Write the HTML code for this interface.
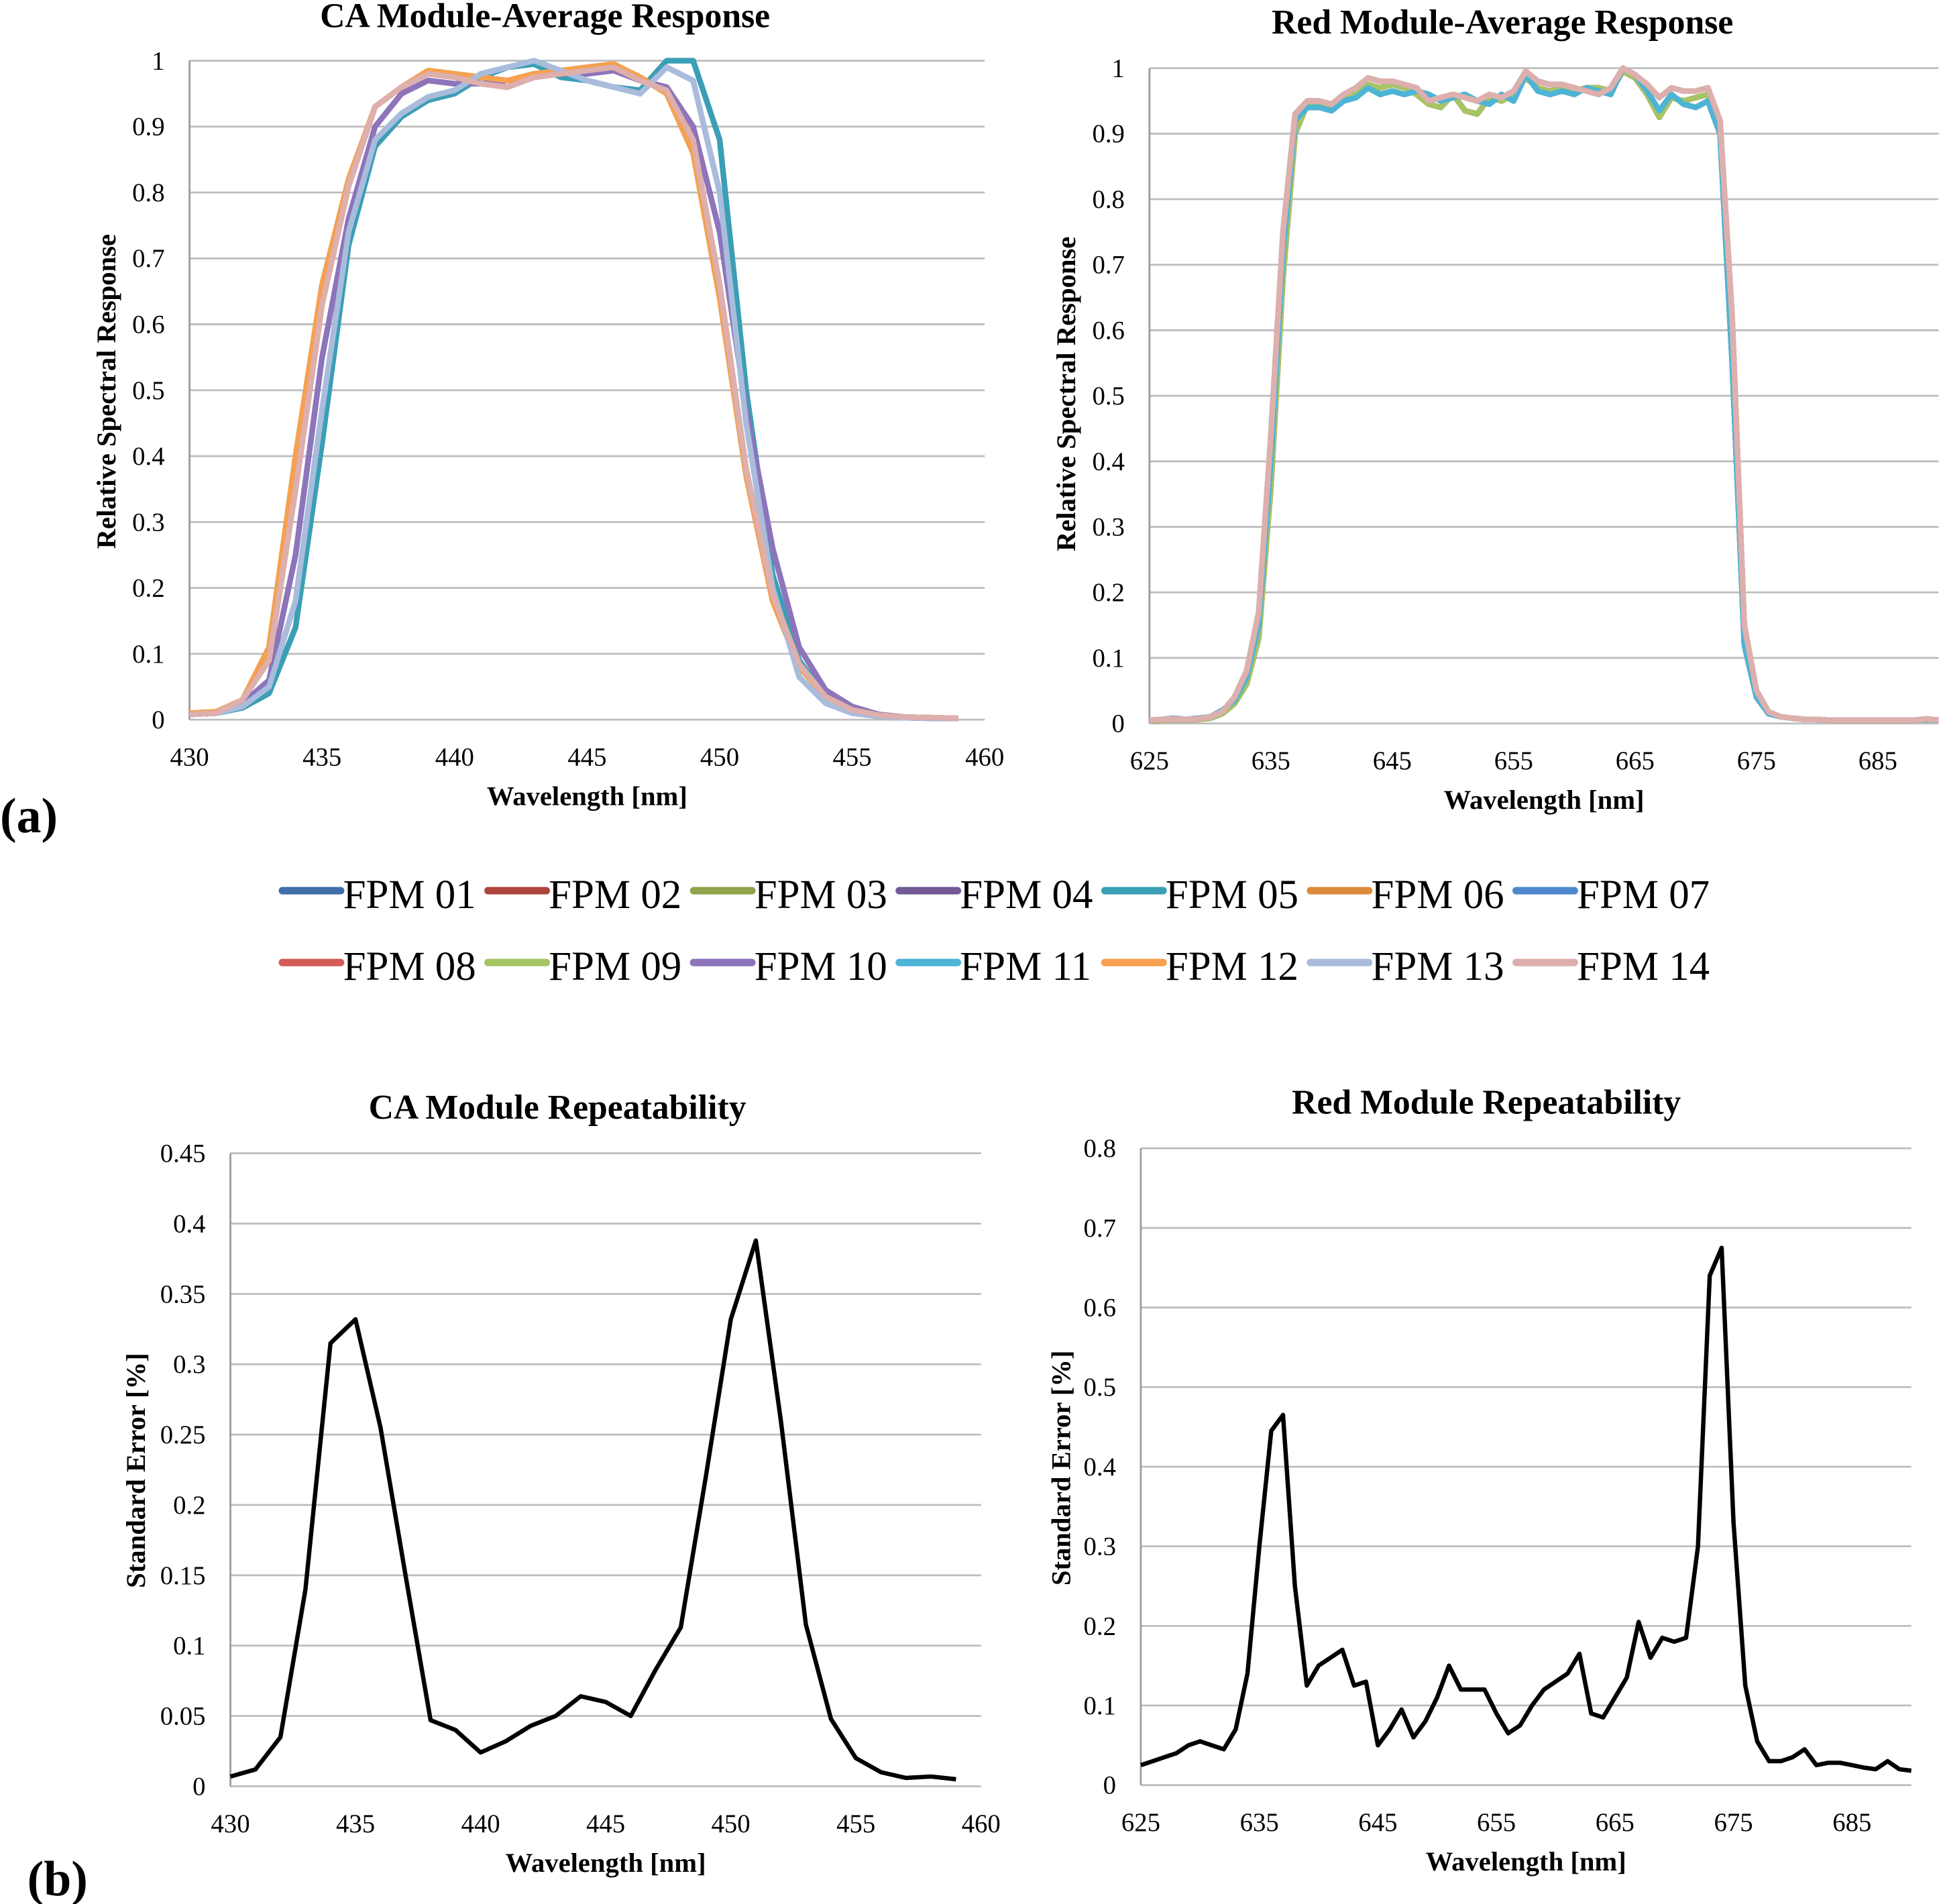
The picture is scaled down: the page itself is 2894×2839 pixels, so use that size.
<!DOCTYPE html>
<html><head><meta charset="utf-8"><style>
html,body{margin:0;padding:0;background:#fff;}
svg{display:block;}
text{font-family:"Liberation Serif",serif;}
</style></head><body>
<svg id="fig" width="2894" height="2839" viewBox="0 0 1567 1537" preserveAspectRatio="none"></svg>
<script>
// ---------- data ----------
const caWl = [430,431,432,433,434,435,436,437,438,439,440,441,442,443,444,445,446,447,448,449,450,451,452,453,454,455,456,457,458,459];
const caEarly = [0.01,0.012,0.03,0.11,0.40,0.66,0.82,0.93,0.96,0.985,0.98,0.975,0.97,0.98,0.985,0.99,0.995,0.975,0.95,0.86,0.64,0.37,0.18,0.08,0.035,0.015,0.007,0.004,0.003,0.002];
const caEarly2 = [0.008,0.01,0.03,0.09,0.35,0.63,0.81,0.93,0.96,0.98,0.975,0.965,0.96,0.975,0.98,0.985,0.99,0.97,0.955,0.88,0.66,0.38,0.19,0.085,0.035,0.015,0.007,0.004,0.003,0.002];
const caMid = [0.008,0.01,0.025,0.06,0.25,0.55,0.76,0.9,0.95,0.97,0.965,0.965,0.97,0.975,0.98,0.98,0.985,0.97,0.96,0.9,0.74,0.47,0.26,0.11,0.045,0.02,0.008,0.004,0.003,0.002];
const caLate = [0.008,0.01,0.018,0.04,0.14,0.42,0.72,0.87,0.915,0.94,0.95,0.975,0.99,0.995,0.975,0.97,0.96,0.955,1.0,1.0,0.88,0.5,0.22,0.09,0.035,0.015,0.006,0.003,0.002,0.002];
const caLate2 = [0.008,0.01,0.02,0.05,0.18,0.47,0.74,0.88,0.92,0.945,0.955,0.98,0.99,1.0,0.985,0.97,0.96,0.95,0.99,0.97,0.8,0.45,0.2,0.065,0.025,0.01,0.005,0.003,0.002,0.002];
const redWl = [];for(let w=625;w<=690;w++)redWl.push(w);
const redA = [0.005,0.006,0.008,0.006,0.008,0.01,0.02,0.035,0.07,0.15,0.40,0.72,0.92,0.94,0.94,0.935,0.95,0.955,0.97,0.96,0.965,0.96,0.965,0.96,0.95,0.955,0.96,0.95,0.945,0.96,0.95,0.99,0.965,0.96,0.965,0.96,0.97,0.965,0.96,1.0,0.99,0.965,0.935,0.96,0.945,0.94,0.95,0.9,0.55,0.12,0.04,0.015,0.01,0.008,0.006,0.006,0.005,0.005,0.005,0.005,0.005,0.005,0.005,0.005,0.006,0.005];
const redB = [0.004,0.005,0.006,0.005,0.006,0.008,0.015,0.03,0.06,0.13,0.36,0.68,0.90,0.945,0.945,0.94,0.955,0.96,0.975,0.97,0.975,0.97,0.96,0.945,0.94,0.96,0.935,0.93,0.955,0.95,0.96,0.985,0.97,0.965,0.97,0.965,0.97,0.97,0.965,0.995,0.985,0.96,0.925,0.955,0.95,0.955,0.96,0.91,0.6,0.14,0.045,0.015,0.01,0.008,0.006,0.006,0.005,0.005,0.005,0.005,0.005,0.005,0.005,0.005,0.006,0.005];
const redC = [0.005,0.006,0.007,0.006,0.007,0.01,0.018,0.04,0.08,0.17,0.44,0.75,0.93,0.95,0.95,0.945,0.96,0.97,0.985,0.98,0.98,0.975,0.97,0.95,0.955,0.96,0.955,0.95,0.96,0.955,0.965,0.995,0.98,0.975,0.975,0.97,0.965,0.96,0.97,1.0,0.99,0.975,0.955,0.97,0.965,0.965,0.97,0.92,0.62,0.15,0.05,0.018,0.01,0.008,0.006,0.006,0.005,0.005,0.005,0.005,0.005,0.005,0.005,0.005,0.007,0.005];
const caRepWl = caWl;
const caRep = [0.007,0.012,0.035,0.14,0.315,0.332,0.255,0.15,0.047,0.04,0.024,0.032,0.043,0.05,0.064,0.06,0.05,0.083,0.113,0.22,0.332,0.388,0.26,0.115,0.048,0.02,0.01,0.006,0.007,0.005];
const redRepWl = redWl;
const redRep = [0.025,0.03,0.035,0.04,0.05,0.055,0.05,0.045,0.07,0.14,0.3,0.445,0.465,0.25,0.125,0.15,0.16,0.17,0.125,0.13,0.05,0.07,0.095,0.06,0.08,0.11,0.15,0.12,0.12,0.12,0.09,0.065,0.075,0.1,0.12,0.13,0.14,0.165,0.09,0.085,0.11,0.135,0.205,0.16,0.185,0.18,0.185,0.3,0.64,0.675,0.33,0.125,0.055,0.03,0.03,0.035,0.045,0.025,0.028,0.028,0.025,0.022,0.02,0.03,0.02,0.018];
const seriesNames = ["FPM 01","FPM 02","FPM 03","FPM 04","FPM 05","FPM 06","FPM 07","FPM 08","FPM 09","FPM 10","FPM 11","FPM 12","FPM 13","FPM 14"];
const seriesColors = ["#3e6fa8","#b0453f","#8ea54b","#725a96","#3a9fb5","#de8a3c","#4f88cc","#d35c58","#a6c464","#8d74bb","#4db4d6","#f7a04f","#aabcdc","#ddafad"];
const caSeries = [caLate,caEarly2,caEarly,caMid,caLate,caEarly,caLate2,caEarly2,caEarly,caMid,caLate2,caEarly,caLate2,caEarly2];
const redSeries = [redA,redB,redA,redB,redC,redC,redA,redB,redB,redC,redA,redC,redC,redC];

const NS="http://www.w3.org/2000/svg";
const svg=document.getElementById('fig');
function mk(tag,attrs,parent,txt){const e=document.createElementNS(NS,tag);for(const k in attrs)e.setAttribute(k,attrs[k]);if(txt!==undefined)e.textContent=txt;(parent||svg).appendChild(e);return e;}

function chart(cfg){
  const g=mk('g',{});
  
  
  const sx=v=>cfg.x0+(v-cfg.xmin)/(cfg.xmax-cfg.xmin)*(cfg.x1-cfg.x0);
  const sy=v=>cfg.y0-(v-cfg.ymin)/(cfg.ymax-cfg.ymin)*(cfg.y0-cfg.y1);
  cfg.yticks.forEach((t,i)=>{
    const gl=mk('line',{x1:cfg.x0,x2:cfg.x1,y1:sy(t),y2:sy(t),stroke:'#bdbdbd','stroke-width':1.5},g);
    
    
    const tl=mk('text',{x:cfg.x0-20,y:sy(t)+7,'text-anchor':'end','font-size':21},g,cfg.ylabels[i]);
    
    
  });
  mk('line',{x1:cfg.x0,x2:cfg.x0,y1:cfg.y1,y2:cfg.y0,stroke:'#9a9a9a','stroke-width':1.5},g);
  cfg.xticks.forEach(t=>{
    const tl=mk('text',{x:sx(t),y:cfg.y0+37,'text-anchor':'middle','font-size':21},g,String(t));
    
    
  });
  const ti=mk('text',{x:cfg.tx,y:cfg.ty,'text-anchor':'middle','font-size':28,'font-weight':'bold'},g,cfg.title);
  
  
  const xt=mk('text',{x:(cfg.x0+cfg.x1)/2,y:cfg.y0+69,'text-anchor':'middle','font-size':22,'font-weight':'bold'},g,'Wavelength [nm]');
  
  
  const yt=mk('text',{x:0,y:0,transform:`translate(${cfg.ylx},${cfg.yly}) rotate(-90)`,'text-anchor':'middle','font-size':22,'font-weight':'bold'},g,cfg.ytitle);
  
  
  cfg.series.forEach((s,i)=>{
    const d=s.vals.map((v,j)=>(j?'L':'M')+sx(cfg.wl[j]).toFixed(1)+' '+sy(v).toFixed(1)).join(' ');
    const p=mk('path',{d:d,fill:'none',stroke:s.color,'stroke-width':s.w,'stroke-linejoin':'round'},g);
    
    
  });
}
const yt10=[0,0.1,0.2,0.3,0.4,0.5,0.6,0.7,0.8,0.9,1];
const yl10=['0','0.1','0.2','0.3','0.4','0.5','0.6','0.7','0.8','0.9','1'];
chart({name:'ca-average-chart',x0:153,x1:795,xmin:430,xmax:460,y0:581,y1:49,ymin:0,ymax:1,yticks:yt10,ylabels:yl10,
  xticks:[430,435,440,445,450,455,460],title:'CA Module-Average Response',tx:440,ty:22,ytitle:'Relative Spectral Response',ylx:93,yly:316,
  wl:caWl,series:caSeries.map((v,i)=>({vals:v,color:seriesColors[i],w:4.5,id:i+1}))});
chart({name:'red-average-chart',x0:928,x1:1565,xmin:625,xmax:690,y0:584,y1:55,ymin:0,ymax:1,yticks:yt10,ylabels:yl10,
  xticks:[625,635,645,655,665,675,685],title:'Red Module-Average Response',tx:1213,ty:27,ytitle:'Relative Spectral Response',ylx:868,yly:318,
  wl:redWl,series:redSeries.map((v,i)=>({vals:v,color:seriesColors[i],w:4.5,id:i+1}))});
chart({name:'ca-repeatability-chart',x0:186,x1:792,xmin:430,xmax:460,y0:1442,y1:931,ymin:0,ymax:0.45,
  yticks:[0,0.05,0.1,0.15,0.2,0.25,0.3,0.35,0.4,0.45],ylabels:['0','0.05','0.1','0.15','0.2','0.25','0.3','0.35','0.4','0.45'],
  xticks:[430,435,440,445,450,455,460],title:'CA Module Repeatability',tx:450,ty:903,ytitle:'Standard Error [%]',ylx:117,yly:1187,
  wl:caRepWl,series:[{vals:caRep,color:'#000',w:3.5,id:'ca-error'}]});
chart({name:'red-repeatability-chart',x0:921,x1:1543,xmin:625,xmax:690,y0:1441,y1:927,ymin:0,ymax:0.8,
  yticks:[0,0.1,0.2,0.3,0.4,0.5,0.6,0.7,0.8],ylabels:['0','0.1','0.2','0.3','0.4','0.5','0.6','0.7','0.8'],
  xticks:[625,635,645,655,665,675,685],title:'Red Module Repeatability',tx:1200,ty:899,ytitle:'Standard Error [%]',ylx:864,yly:1185,
  wl:redRepWl,series:[{vals:redRep,color:'#000',w:3.5,id:'red-error'}]});

// legend
const lg=mk('g',{});


seriesNames.forEach((n,i)=>{
  const row=Math.floor(i/7),col=i%7;
  const x=228+col*166, y=719+row*58;
  const ln=mk('line',{x1:x,x2:x+47,y1:y,y2:y,stroke:seriesColors[i],'stroke-width':6,'stroke-linecap':'round'},lg);
  
  
  const t=mk('text',{x:x+49,y:y+14,'font-size':33},lg,n);
  
  
});
const pa=mk('text',{x:0,y:672,'font-size':40,'font-weight':'bold'},svg,'(a)');


const pb=mk('text',{x:22,y:1530,'font-size':40,'font-weight':'bold'},svg,'(b)');


</script>
</body></html>
